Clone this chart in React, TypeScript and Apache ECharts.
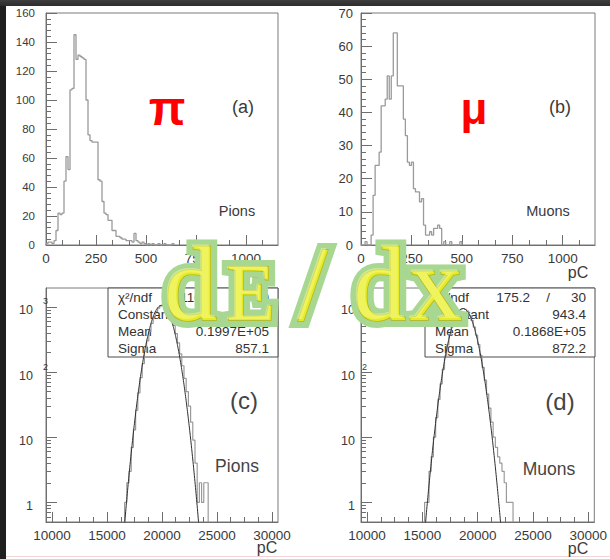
import { useEffect, useRef } from "react";
import * as echarts from "echarts";

// ---- single-event charge spectra, 10 pC bins starting at 0 pC ----
const chargeBinStart = 0;
const chargeBinWidth = 10;
const pionCharge = [
  1, 2, 2, 1, 3, 10, 22, 21, 22, 44, 61, 52, 107, 108, 145, 128, 131, 130, 129, 128,
  100, 76, 72, 71, 71, 71, 45, 44, 30, 22, 21, 17, 17, 10, 10, 6, 6, 5, 4, 4,
  3, 3, 3, 2, 8, 3, 2, 1, 2, 1, 0, 1, 0, 1, 0, 0, 1, 0, 0, 1, 0, 0, 0, 1,
];
const muonCharge = [
  0, 0, 1, 0, 0, 3, 15, 24, 24, 28, 42, 42, 44, 51, 44, 51, 64, 64, 48, 48,
  48, 38, 33, 25, 24, 25, 17, 16, 16, 13, 14, 6, 3, 3, 4, 3, 5, 5, 6, 5,
  0, 1, 0, 0, 1, 0, 0, 0, 0, 1,
];

// ---- summed charge spectra, 200 pC bins ----
const sumBinWidth = 200;
const pionSumStart = 16600;
const pionSum = [
  1, 2, 3, 7, 13, 26, 48, 82, 135, 205, 300, 420, 560, 700, 850, 960, 1040, 1065, 1010, 930,
  800, 660, 520, 390, 280, 190, 125, 80, 50, 30, 17, 9, 4, 1, 2, 1, 2, 2,
];
const muonSumStart = 15200;
const muonSum = [
  1, 1, 3, 5, 10, 20, 38, 66, 110, 175, 262, 370, 495, 625, 750, 850, 920, 945, 915, 845,
  740, 620, 490, 370, 265, 180, 118, 75, 46, 28, 17, 10, 7, 5, 4, 3, 2, 1, 1, 1,
];

// ---- Gaussian fit results: [chi2, ndf, constant, mean, sigma] ----
const pionFit = [110.5, 30, 1060, 19970, 857.1];
const muonFit = [175.2, 30, 943.4, 18680, 872.2];
const pionFitText = ["110.5", "30", "1060.", "0.1997E+05", "857.1"];
const muonFitText = ["175.2", "30", "943.4", "0.1868E+05", "872.2"];
const statNames = ["\u03c7\u00b2/ndf", "Constant", "Mean", "Sigma"];

// ---- tick labels ----
const chargeTicks = [0, 250, 500, 750, 1000];
const pionCountTicks = [0, 20, 40, 60, 80, 100, 120, 140, 160];
const muonCountTicks = [0, 10, 20, 30, 40, 50, 60, 70];
const sumTicks = [10000, 15000, 20000, 25000, 30000];
const logTicks = [1, 10, 100, 1000];

const FONT = "'Liberation Sans', Arial, Helvetica, sans-serif";
const SERIF = "'Liberation Serif', 'Times New Roman', serif";
const AXIS = "#6e6e6e";
const LABEL = "#3a3a3a";
const HIST = "#9a9a9a";
const FIT = "#2e2e2e";

const frames = [
  { left: 46, top: 13, width: 232, height: 232 },
  { left: 361, top: 13, width: 234, height: 232 },
  { left: 46, top: 288, width: 232, height: 234 },
  { left: 361, top: 288, width: 234, height: 234 },
];

const CHARGE_MAX = 1160;
const SUM_MIN = 9450;
const SUM_MAX = 30550;
const LOG_MIN = 0.5;
const LOG_MAX = 1950;

const plain = (v: number) => String(Math.round(v));

function minorValues(lo: number, hi: number, step: number, major: number) {
  const out: number[] = [];
  for (let i = 0; ; i++) {
    const v = lo + i * step;
    if (v > hi + 1e-6) break;
    const r = v / major;
    if (Math.abs(r - Math.round(r)) > 1e-6) out.push(v);
  }
  return out;
}

function logMinorValues() {
  const out: number[] = [];
  for (let n = -1; n <= 3; n++) {
    for (let k = 2; k <= 9; k++) {
      const v = k * Math.pow(10, n);
      if (v >= LOG_MIN && v <= LOG_MAX) out.push(v);
    }
  }
  return out;
}

function histOutline(start: number, width: number, counts: number[], floor: number) {
  const pts: number[][] = [[start, floor]];
  counts.forEach((c, i) => {
    const v = Math.max(c, floor);
    pts.push([start + i * width, v], [start + (i + 1) * width, v]);
  });
  pts.push([start + counts.length * width, floor]);
  return pts;
}

function gaussCurve(fit: number[]) {
  const [, , c, mean, sigma] = fit;
  const pts: number[][] = [];
  for (let x = mean - 4.2 * sigma; x <= mean + 4.2 * sigma; x += 25) {
    const z = (x - mean) / sigma;
    pts.push([x, c * Math.exp(-0.5 * z * z)]);
  }
  return pts;
}

function xAxes(g: number, min: number, max: number, majors: number[], minors: number[], fs: number) {
  return [
    {
      type: "value", gridIndex: g, min, max, position: "bottom",
      axisLine: { show: true, onZero: false, lineStyle: { color: AXIS } },
      axisTick: { show: true, inside: true, length: 10, customValues: majors, lineStyle: { color: AXIS } },
      axisLabel: { show: true, customValues: majors, margin: 6, color: LABEL, fontSize: fs, fontFamily: FONT, formatter: plain },
      splitLine: { show: false },
    },
    {
      type: "value", gridIndex: g, min, max, position: "bottom",
      axisLine: { show: false },
      axisTick: { show: true, inside: true, length: 5, customValues: minors, lineStyle: { color: AXIS } },
      axisLabel: { show: false },
      splitLine: { show: false },
    },
  ];
}

function yLinear(g: number, max: number, majors: number[], minors: number[], margin: number, fs: number) {
  return [
    {
      type: "value", gridIndex: g, min: 0, max, position: "left",
      axisLine: { show: true, onZero: false, lineStyle: { color: AXIS } },
      axisTick: { show: true, inside: true, length: 11, customValues: majors, lineStyle: { color: AXIS } },
      axisLabel: { show: true, customValues: majors, margin, color: LABEL, fontSize: fs, fontFamily: FONT, formatter: plain },
      splitLine: { show: false },
    },
    {
      type: "value", gridIndex: g, min: 0, max, position: "left",
      axisLine: { show: false },
      axisTick: { show: true, inside: true, length: 5, customValues: minors, lineStyle: { color: AXIS } },
      axisLabel: { show: false },
      splitLine: { show: false },
    },
  ];
}

function yLog(g: number, margin: number, gap: number) {
  return [
    {
      type: "log", logBase: 10, gridIndex: g, min: LOG_MIN, max: LOG_MAX, position: "left",
      axisLine: { show: true, onZero: false, lineStyle: { color: AXIS } },
      axisTick: { show: true, inside: true, length: 11, customValues: logTicks, lineStyle: { color: AXIS } },
      axisLabel: {
        show: true, customValues: logTicks, margin,
        formatter: (v: number) => {
          const e = Math.round(Math.log10(v));
          if (e === 0) return "{b|1}{s|}";
          if (e === 1) return "{b|10}{s|}";
          return `{b|10}{s|${e}}`;
        },
        rich: {
          b: { fontSize: 12.5, fontFamily: FONT, color: LABEL, lineHeight: 20, verticalAlign: "bottom" },
          s: { fontSize: 9, fontFamily: FONT, color: LABEL, lineHeight: 8, width: 6, padding: [0, 0, 0, gap], verticalAlign: "top" },
        },
      },
      splitLine: { show: false },
    },
    {
      type: "log", logBase: 10, gridIndex: g, min: LOG_MIN, max: LOG_MAX, position: "left",
      axisLine: { show: false },
      axisTick: { show: true, inside: true, length: 5, customValues: logMinorValues(), lineStyle: { color: AXIS } },
      axisLabel: { show: false },
      splitLine: { show: false },
    },
  ];
}

function txt(x: number, y: number, text: string, size: number, opts: any = {}) {
  return {
    type: "text", x, y, z: opts.z ?? 5, silent: true,
    style: {
      text, fontSize: size, fontFamily: opts.family ?? FONT, fontWeight: opts.weight ?? "normal",
      fill: opts.color ?? LABEL, align: opts.align ?? "center", verticalAlign: "middle",
    },
  };
}

function statBox(left: number, right: number, top: number, bottom: number, values: string[], ratioRight: number, slashX: number) {
  const rows = [297, 314, 331, 348];
  const els: any[] = [
    {
      type: "rect", z: 1, silent: true,
      shape: { x: left, y: top, width: right - left, height: bottom - top },
      style: { fill: "#fff", stroke: "#4a4a4a", lineWidth: 1 },
    },
  ];
  statNames.forEach((name, i) => {
    els.push(txt(left + 10, rows[i], name, 13.5, { align: "left", z: 1, color: "#333" }));
  });
  els.push(txt(ratioRight, rows[0], values[0], 13.5, { align: "right", z: 1, color: "#333" }));
  els.push(txt(slashX, rows[0], "/", 13.5, { z: 1, color: "#333" }));
  els.push(txt(right - 9, rows[0], values[1], 13.5, { align: "right", z: 1, color: "#333" }));
  for (let i = 2; i < 5; i++) {
    els.push(txt(right - 9, rows[i - 1], values[i], 13.5, { align: "right", z: 1, color: "#333" }));
  }
  return els;
}

// big overlay caption, one glyph at a time
const captionGlyphs = [
  { ch: "d", x: 191, size: 106 },
  { ch: "E", x: 251, size: 80 },
  { ch: "/", x: 313, size: 106 },
  { ch: "d", x: 380, size: 106 },
  { ch: "x", x: 436, size: 106 },
];
const CAPTION_BASELINE = 320;

function caption() {
  const halo: any[] = [];
  const face: any[] = [];
  const shine: any[] = [];
  captionGlyphs.forEach((g) => {
    const y = CAPTION_BASELINE - 0.3375 * g.size;
    const base = {
      text: g.ch, fontSize: g.size, fontFamily: SERIF, align: "center", verticalAlign: "middle",
    };
    halo.push({
      type: "text", x: g.x, y, z: 50, silent: true,
      style: { ...base, fill: "#a7d790", stroke: "#a7d790", lineWidth: 14, lineJoin: "round" },
    });
    face.push({
      type: "text", x: g.x, y, z: 51, silent: true,
      style: { ...base, fill: "#e6eb28", stroke: "#b4b71e", lineWidth: 1.6 },
    });
    // soft highlight on the upper-left of each glyph
    shine.push({
      type: "text", x: g.x - 1.5, y: y - 1.5, z: 52, silent: true,
      style: { ...base, fill: "rgba(250,252,160,0.45)" },
    });
  });
  return [...halo, ...face, ...shine];
}

function buildOption() {
  const chargeMinors = minorValues(0, CHARGE_MAX, 250 / 3, 250);
  const sumMinors = minorValues(10000, 30000, 1250, 5000);

  const xAxis = [
    ...xAxes(0, 0, CHARGE_MAX, chargeTicks, chargeMinors, 13.5),
    ...xAxes(1, 0, CHARGE_MAX, chargeTicks, chargeMinors, 13.5),
    ...xAxes(2, SUM_MIN, SUM_MAX, sumTicks, sumMinors, 13.5),
    ...xAxes(3, SUM_MIN, SUM_MAX, sumTicks, sumMinors, 13.5),
  ];
  const yAxis = [
    ...yLinear(0, 160, pionCountTicks, minorValues(0, 160, 4, 20), 11, 11.5),
    ...yLinear(1, 70, muonCountTicks, minorValues(0, 70, 2, 10), 8, 13),
    ...yLog(2, -2, 9),
    ...yLog(3, -6, 6),
  ];

  const line = (xi: number, data: number[][], color: string, width: number) => ({
    type: "line", xAxisIndex: xi, yAxisIndex: xi, data, symbol: "none", showSymbol: false,
    clip: true, silent: true, lineStyle: { color, width }, z: 3,
  });

  const series = [
    line(0, histOutline(chargeBinStart, chargeBinWidth, pionCharge, 0), HIST, 1.3),
    line(2, histOutline(chargeBinStart, chargeBinWidth, muonCharge, 0), HIST, 1.3),
    line(4, histOutline(pionSumStart, sumBinWidth, pionSum, LOG_MIN), HIST, 1.2),
    line(4, gaussCurve(pionFit), FIT, 1),
    line(6, histOutline(muonSumStart, sumBinWidth, muonSum, LOG_MIN), HIST, 1.2),
    line(6, gaussCurve(muonFit), FIT, 1),
  ];

  const graphic = [
    // panel (a)
    txt(167, 108, "\u03c0", 48, { color: "#ff0000", weight: "bold" }),
    txt(243, 107, "(a)", 18, { color: "#3a3a3a" }),
    txt(237, 211, "Pions", 14.5),
    txt(262, 272, "pC", 16),
    // panel (b)
    txt(474, 108, "\u03bc", 44, { color: "#ff0000", weight: "bold" }),
    txt(560, 107, "(b)", 18, { color: "#3a3a3a" }),
    txt(548, 211, "Muons", 14.5),
    txt(578, 272, "pC", 16),
    // panel (c)
    ...statBox(108, 278, 288, 357, pionFitText, 213, 231),
    txt(244, 400, "(c)", 24, { color: "#444" }),
    txt(237, 466, "Pions", 17.5, { color: "#444" }),
    txt(267, 547, "pC", 16),
    // panel (d)
    ...statBox(425, 595, 288, 357, muonFitText, 530, 548),
    txt(560, 401, "(d)", 24, { color: "#444" }),
    txt(549, 469, "Muons", 17.5, { color: "#444" }),
    txt(578, 548, "pC", 16),
    ...caption(),
  ];

  return {
    animation: false,
    backgroundColor: "transparent",
    grid: frames.map((f) => ({ ...f, show: true, borderColor: "#7a7a7a", borderWidth: 1, backgroundColor: "transparent", containLabel: false })),
    xAxis,
    yAxis,
    series,
    graphic,
  };
}

export default function App() {
  const ref = useRef<HTMLDivElement>(null);
  useEffect(() => {
    if (!ref.current) return;
    const chart = echarts.init(ref.current, null, { renderer: "svg", width: 610, height: 559 });
    chart.setOption(buildOption() as any);
    return () => chart.dispose();
  }, []);
  return (
    <div style={{ position: "fixed", left: 0, top: 0, width: 610, height: 559, background: "#1f1f1f", overflow: "hidden" }}>
      <div style={{ position: "absolute", left: 0, top: 0, width: 610, height: 6, background: "linear-gradient(#3e3e3e, #2c2c2c)" }} />
      <div style={{ position: "absolute", left: 6, top: 6, width: 604, height: 553, background: "#ffffff" }} />
      <div style={{ position: "absolute", left: 6, top: 556, width: 604, height: 1, background: "#f2d4d4" }} />
      <div ref={ref} style={{ position: "absolute", left: 0, top: 0, width: 610, height: 559 }} />
    </div>
  );
}
